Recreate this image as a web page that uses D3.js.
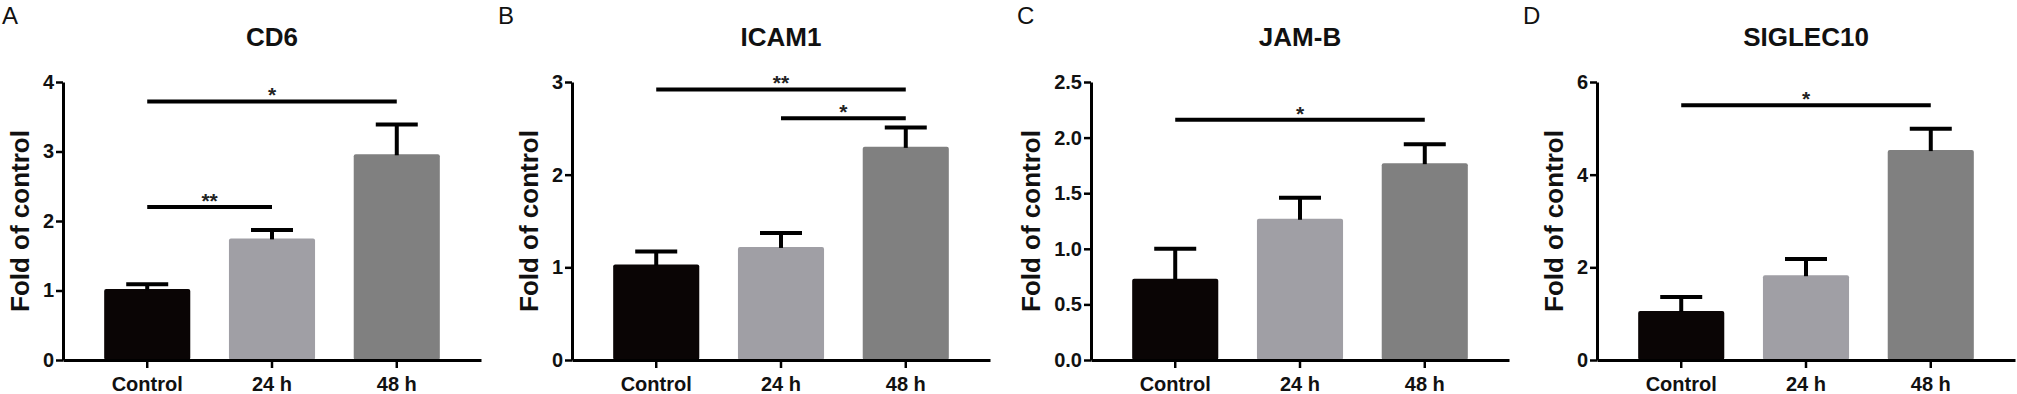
<!DOCTYPE html>
<html>
<head>
<meta charset="utf-8">
<script src="https://cdn.jsdelivr.net/npm/d3@7"></script>
<style>
  body { margin: 0; background: #fff; }
  svg { display: block; }
  text { font-family: "Liberation Sans", Arial, sans-serif; }
</style>
</head>
<body>
<svg id="chart"></svg>
<script>
// data
const categories = ["Control", "24 h", "48 h"];
const genes = ["CD6", "ICAM1", "JAM-B", "SIGLEC10"];
const panelLetters = ["A", "B", "C", "D"];
const barColors = ["#0a0505", "#a09fa5", "#808080"];

const cd6Mean = [1.02, 1.75, 2.96];
const cd6Err = [0.07, 0.12, 0.43];
const icam1Mean = [1.03, 1.22, 2.30];
const icam1Err = [0.14, 0.15, 0.21];
const jambMean = [0.73, 1.27, 1.77];
const jambErr = [0.27, 0.19, 0.17];
const siglecMean = [1.06, 1.83, 4.53];
const siglecErr = [0.30, 0.35, 0.46];

const yMaxes = [4, 3, 2.5, 6];
const yTicks = [
  [0, 1, 2, 3, 4],
  [0, 1, 2, 3],
  [0, 0.5, 1.0, 1.5, 2.0, 2.5],
  [0, 2, 4, 6]
];
const tickFormats = ["d", "d", ".1f", "d"];

// significance brackets: [from index, to index, height, label]
const cd6Sig = [[0, 2, 3.72, "*"], [0, 1, 2.2, "**"]];
const icam1Sig = [[0, 2, 2.92, "**"], [1, 2, 2.61, "*"]];
const jambSig = [[0, 2, 2.16, "*"]];
const siglecSig = [[0, 2, 5.5, "*"]];

const means = [cd6Mean, icam1Mean, jambMean, siglecMean];
const errs = [cd6Err, icam1Err, jambErr, siglecErr];
const sigs = [cd6Sig, icam1Sig, jambSig, siglecSig];

// layout
const W = 2017, H = 394;
const axisLeft = [63, 572, 1091, 1597];
const letterX = [2, 498, 1017, 1523];
const plotW = 418, plotTop = 82, plotBottom = 360;

const svg = d3.select("#chart").attr("width", W).attr("height", H);

genes.forEach((gene, p) => {
  const x0 = axisLeft[p];
  const g = svg.append("g");

  const x = d3.scaleBand()
    .domain(categories)
    .range([x0, x0 + plotW])
    .paddingInner(0.31)
    .paddingOuter(0.33);

  const y = d3.scaleLinear()
    .domain([0, yMaxes[p]])
    .range([plotBottom, plotTop]);

  const rows = categories.map((c, i) => ({cat: c, mean: means[p][i], err: errs[p][i], color: barColors[i]}));

  // bars
  g.selectAll("rect.bar")
    .data(rows)
    .enter()
    .append("rect")
      .attr("class", "bar")
      .attr("x", d => x(d.cat))
      .attr("y", d => y(d.mean))
      .attr("width", x.bandwidth())
      .attr("height", d => y(0) - y(d.mean))
      .attr("rx", 2)
      .attr("fill", d => d.color);

  // error bars (upper only)
  const eb = g.selectAll("g.err")
    .data(rows)
    .enter()
    .append("g")
      .attr("class", "err")
      .attr("stroke", "#000")
      .attr("stroke-width", 4);
  eb.append("line")
    .attr("x1", d => x(d.cat) + x.bandwidth() / 2)
    .attr("x2", d => x(d.cat) + x.bandwidth() / 2)
    .attr("y1", d => y(d.mean) + 1)
    .attr("y2", d => y(d.mean + d.err));
  eb.append("line")
    .attr("x1", d => x(d.cat) + x.bandwidth() / 2 - 21)
    .attr("x2", d => x(d.cat) + x.bandwidth() / 2 + 21)
    .attr("y1", d => y(d.mean + d.err))
    .attr("y2", d => y(d.mean + d.err));

  // axes
  const yAxisG = g.append("g")
    .attr("transform", `translate(${x0},0)`)
    .call(d3.axisLeft(y).tickValues(yTicks[p]).tickFormat(d3.format(tickFormats[p])).tickSize(7).tickSizeOuter(0).tickPadding(2));
  yAxisG.select(".domain").attr("stroke-width", 3);
  yAxisG.selectAll(".tick line").attr("stroke-width", 2.5);
  yAxisG.selectAll(".tick text")
    .attr("font-size", 20).attr("font-weight", "bold").attr("fill", "#111")
    .attr("font-family", "Liberation Sans, Arial, sans-serif");

  const xAxisG = g.append("g")
    .attr("transform", `translate(0,${plotBottom})`)
    .call(d3.axisBottom(x).tickSize(8).tickSizeOuter(0).tickPadding(9));
  xAxisG.select(".domain").attr("stroke-width", 3);
  xAxisG.selectAll(".tick line").attr("stroke-width", 2.5);
  xAxisG.selectAll(".tick text")
    .attr("font-size", 20).attr("font-weight", "bold").attr("fill", "#111")
    .attr("font-family", "Liberation Sans, Arial, sans-serif");

  // significance bars
  const cx = c => x(categories[c]) + x.bandwidth() / 2;
  sigs[p].forEach(s => {
    g.append("line")
      .attr("x1", cx(s[0]))
      .attr("x2", cx(s[1]))
      .attr("y1", y(s[2]))
      .attr("y2", y(s[2]))
      .attr("stroke", "#000")
      .attr("stroke-width", 4);
    g.append("text")
      .attr("x", (cx(s[0]) + cx(s[1])) / 2)
      .attr("y", y(s[2]) + 1)
      .attr("text-anchor", "middle")
      .attr("font-size", 21)
      .attr("font-weight", "bold")
      .attr("fill", "#222")
      .text(s[3]);
  });

  // title
  g.append("text")
    .attr("x", x0 + plotW / 2)
    .attr("y", 46)
    .attr("text-anchor", "middle")
    .attr("font-size", 26)
    .attr("font-weight", "bold")
    .attr("fill", "#111")
    .text(gene);

  // y label, placed just left of the tick labels
  const bb = yAxisG.node().getBBox();
  const labX = x0 + bb.x - 14;
  g.append("text")
    .attr("transform", `translate(${labX},${(plotTop + plotBottom) / 2}) rotate(-90)`)
    .attr("text-anchor", "middle")
    .attr("font-size", 26)
    .attr("font-weight", "bold")
    .attr("fill", "#111")
    .text("Fold of control");

  // panel letter
  svg.append("text")
    .attr("x", letterX[p])
    .attr("y", 24)
    .attr("font-size", 24)
    .attr("font-family", "Open Sans, sans-serif")
    .attr("fill", "#111")
    .text(panelLetters[p]);
});
</script>
</body>
</html>
